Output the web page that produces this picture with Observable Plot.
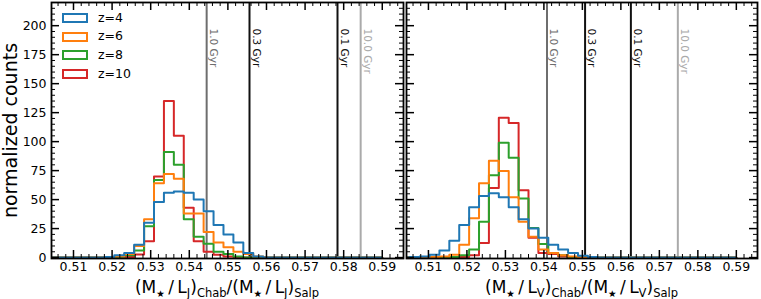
<!DOCTYPE html>
<html><head><meta charset="utf-8">
<script src="https://cdn.jsdelivr.net/npm/d3@7"></script>
<script src="https://cdn.jsdelivr.net/npm/@observablehq/plot@0.6"></script>
<style>
body{margin:0;background:#fff;}
#wrap{position:relative;width:761px;height:299px;font-family:"DejaVu Sans",sans-serif;color:#000;}
#wrap svg{position:absolute;top:0;overflow:visible;background:transparent;}
.legend{position:absolute;left:62px;top:8.5px;font-size:12.5px;}
.row{position:relative;height:18.7px;width:80px;}
.box{position:absolute;left:0;top:4.5px;width:22px;height:6px;border:2px solid;}
.row .t{position:absolute;left:36px;top:0;line-height:18.7px;}
.xlab{position:absolute;top:277px;font-size:17px;line-height:20px;white-space:nowrap;transform:translateX(-50%);}
.xlab sub{font-size:11.5px;vertical-align:-4px;line-height:0;}
.xlab sub.s{font-size:9.5px;}
</style>
</head><body>
<div id="wrap"></div>
<script>
// ---------- data ----------
const seriesNames = ["z=4", "z=6", "z=8", "z=10"];
const binEdges = [0.5, 0.502571, 0.505143, 0.507714, 0.510286, 0.512857, 0.515429, 0.518,
  0.520571, 0.523143, 0.525714, 0.528286, 0.530857, 0.533429, 0.536, 0.538571, 0.541143,
  0.543714, 0.546286, 0.548857, 0.551429, 0.554, 0.556571, 0.559143, 0.561714, 0.564286,
  0.566857, 0.569429, 0.572, 0.574571, 0.577143, 0.579714, 0.582286, 0.584857, 0.587429, 0.59];

// J band (left panel), counts per bin
const countsJ_z4  = [0,0,0,0,0,0,0,0.5,2,4,11,30,48,56,57,56,50,40,28,20,13,4,1,0,0,0,0,0,0,0,0,0,0,0,0];
const countsJ_z6  = [0,0,0,0,0,0,0,0,1,3,10,33,64,72,68,38,38,22,13,9,5,3,1,0,0,0,0,0,0,0,0,0,0,0,0];
const countsJ_z8  = [0,0,0,0,0,0,0,0,0.5,2,6,27,67,91,80,33,18,12,5,3,1,0,0,0,0,0,0,0,0,0,0,0,0,0,0];
const countsJ_z10 = [0,0,0,0,0,0,0,0,0,0.5,2.6,14,70,135,105,43,14,5,2.5,1,0.5,0,0,0,0,0,0,0,0,0,0,0,0,0,0];

// V band (right panel), counts per bin
const countsV_z4  = [0,0,0.5,1,2.5,6,14.6,28,43.5,53,55.5,52,43.5,33,25,17,11,7,4,1.5,0.5,0,0,0,0,0,0,0,0,0,0,0,0,0,0];
const countsV_z6  = [0,0,0,0,0.5,1,2.5,11,34,64,83.5,74.7,52,31,18,7,4,2,1,0,0,0,0,0,0,0,0,0,0,0,0,0,0,0,0];
const countsV_z8  = [0,0,0,0,0,0,0.5,2,7,31,71,99,86,51,25.5,11.7,4,2,0.5,0,0,0,0,0,0,0,0,0,0,0,0,0,0,0,0];
const countsV_z10 = [0,0,0,0,0,0,0,0.5,2,12.6,60,120.5,116,58,17,4,3,1,0,0,0,0,0,0,0,0,0,0,0,0,0,0,0,0,0];

// age reference lines
const lineAges = ["1.0 Gyr", "0.3 Gyr", "0.1 Gyr", "10.0 Gyr"];
const ratioJ = [0.5445, 0.5556, 0.5784, 0.5844];
const ratioV = [0.5408, 0.5507, 0.5626, 0.5748];

// ticks
const xMajor = [0.51, 0.52, 0.53, 0.54, 0.55, 0.56, 0.57, 0.58, 0.59];
const yMajor = [0, 25, 50, 75, 100, 125, 150, 175, 200];

// ---------- styling ----------
const seriesColors = ["#1f77b4", "#ff7f0e", "#2ca02c", "#d62728"];
const ageColors = {"1.0 Gyr": "#6e6e6e", "0.3 Gyr": "#111111", "0.1 Gyr": "#111111", "10.0 Gyr": "#aaaaaa"};
const xMinor = d3.range(0.506, 0.5955, 0.002).filter(v => Math.round(v * 1000) % 10 !== 0);
const yMinor = d3.range(5, 220, 5).filter(v => v % 25 !== 0);
const H = 299, MT = 2, MB = 41;
const XDOM = [0.5043, 0.5955], YDOM = [-0.8, 220];

function stepPoints(counts) {
  const pts = [{x: binEdges[0], y: 0}];
  counts.forEach((c, k) => pts.push({x: binEdges[k], y: c}));
  pts.push({x: binEdges[binEdges.length - 1], y: counts[counts.length - 1]});
  pts.push({x: binEdges[binEdges.length - 1], y: 0});
  return pts;
}

function panel({counts, ratios, width, ml, mr, showY}) {
  const innerW = width - ml - mr, innerH = H - MT - MB;
  const lines = ratios.map((r, i) => ({x: r, age: lineAges[i], color: ageColors[lineAges[i]]}));
  const marks = [
    Plot.ruleX(lines, {x: "x", stroke: "color", strokeWidth: 2}),
    Plot.text(lines, {x: "x", text: "age", fill: "color", frameAnchor: "top", rotate: 90,
      textAnchor: "start", lineAnchor: "bottom", dx: 3, dy: 26, fontSize: 10.5}),
  ];
  // histograms: draw z=10 first, z=4 last (on top)
  for (let s = counts.length - 1; s >= 0; s--) {
    marks.push(Plot.line(stepPoints(counts[s]), {x: "x", y: "y", curve: "step-after",
      stroke: seriesColors[s], strokeWidth: 2, clip: true}));
  }
  // inward ticks on all four sides
  marks.push(
    Plot.tickX(xMajor, {x: d => d, insetTop: innerH - 8, strokeWidth: 1.5}),
    Plot.tickX(xMajor, {x: d => d, insetBottom: innerH - 8, strokeWidth: 1.5}),
    Plot.tickX(xMinor, {x: d => d, insetTop: innerH - 4, strokeWidth: 1}),
    Plot.tickX(xMinor, {x: d => d, insetBottom: innerH - 4, strokeWidth: 1}),
    Plot.tickY(yMajor, {y: d => d, insetRight: innerW - 8, strokeWidth: 1.5}),
    Plot.tickY(yMajor, {y: d => d, insetLeft: innerW - 8, strokeWidth: 1.5}),
    Plot.tickY(yMinor, {y: d => d, insetRight: innerW - 4, strokeWidth: 1}),
    Plot.tickY(yMinor, {y: d => d, insetLeft: innerW - 4, strokeWidth: 1}),
    Plot.frame({stroke: "#000", strokeWidth: 1.8}),
    Plot.axisX({ticks: xMajor, tickSize: 0, tickPadding: 4, tickFormat: d => d.toFixed(2), label: null, fontSize: 12.5})
  );
  if (showY) {
    marks.push(
      Plot.axisY({ticks: yMajor, tickSize: 0, tickPadding: 5, tickFormat: d => String(d), label: null, fontSize: 12.5}),
      Plot.text(["normalized counts"], {text: d => d, frameAnchor: "left", rotate: -90, dx: -41, fontSize: 19, textAnchor: "middle"})
    );
  }
  return Plot.plot({
    width, height: H, marginLeft: ml, marginRight: mr, marginTop: MT, marginBottom: MB,
    x: {domain: XDOM},
    y: {domain: YDOM, axis: showY ? undefined : null},
    color: {type: "identity"},
    style: {fontFamily: "DejaVu Sans", fontSize: "12.5px", background: "transparent", overflow: "visible", color: "#000"},
    marks
  });
}

const wrap = document.getElementById("wrap");
const left = panel({counts: [countsJ_z4, countsJ_z6, countsJ_z8, countsJ_z10], ratios: ratioJ, width: 404, ml: 51, mr: 1, showY: true});
left.style.left = "0px";
wrap.appendChild(left);
const right = panel({counts: [countsV_z4, countsV_z6, countsV_z8, countsV_z10], ratios: ratioV, width: 357, ml: 2, mr: 4, showY: false});
right.style.left = "404px";
wrap.appendChild(right);

// legend
const leg = document.createElement("div");
leg.className = "legend";
seriesNames.forEach((n, i) => {
  const row = document.createElement("div");
  row.className = "row";
  row.innerHTML = `<span class="box" style="border-color:${seriesColors[i]}"></span><span class="t">${n}</span>`;
  leg.appendChild(row);
});
wrap.appendChild(leg);

// x labels
function xlab(band, cx) {
  const d = document.createElement("div");
  d.className = "xlab";
  d.style.left = cx + "px";
  const star = `<sub class="s">\u2605</sub>`;
  d.innerHTML = `(M${star}\u2009/\u2009L<sub>${band}</sub>)<sub>Chab</sub>/(M${star}\u2009/\u2009L<sub>${band}</sub>)<sub>Salp</sub>`;
  wrap.appendChild(d);
}
xlab("J", 227);
xlab("V", 581.5);
</script>
</body></html>
